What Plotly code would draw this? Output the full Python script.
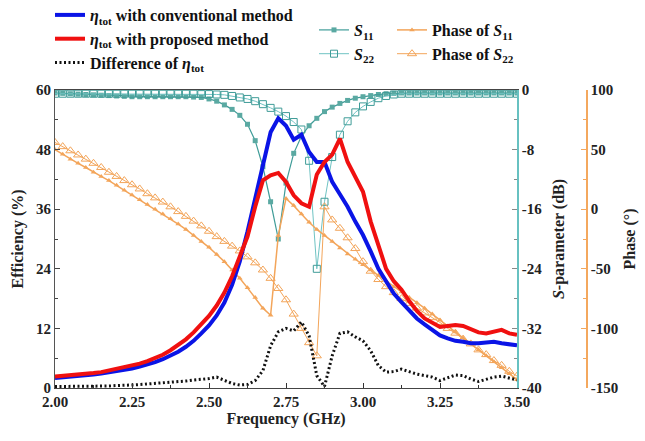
import plotly.graph_objects as go

# ---------------- data ----------------
freq = [round(2.0 + 0.025 * i, 3) for i in range(61)]

eff_conv = [2.0, 2.1, 2.2, 2.4, 2.5, 2.7, 2.9, 3.1, 3.3, 3.6,
            3.9, 4.3, 4.7, 5.2, 5.8, 6.5, 7.3, 8.3, 9.5, 11.0,
            12.6, 14.6, 17.2, 20.8, 25.5, 31.5, 38.0, 45.0, 51.5, 54.3,
            52.8, 50.0, 51.0, 47.5, 45.5, 45.5, 41.5, 39.0, 36.5, 33.5,
            30.8, 27.5, 24.0, 21.5, 19.0, 17.3, 15.5, 14.0, 12.8, 11.8,
            10.6, 10.0, 9.5, 9.3, 9.0, 9.0, 9.2, 9.3, 9.0, 8.8, 8.6]

eff_prop = [2.3, 2.4, 2.6, 2.7, 2.9, 3.0, 3.2, 3.5, 3.8, 4.1,
            4.5, 4.9, 5.4, 6.0, 6.7, 7.6, 8.6, 9.8, 11.2, 12.8,
            14.5, 16.6, 19.2, 22.5, 26.5, 30.5, 36.5, 41.8, 42.8, 43.3,
            41.5, 38.8, 37.2, 36.5, 43.0, 45.5, 47.0, 50.2, 45.5, 42.5,
            39.5, 33.5, 28.8, 24.0, 21.5, 19.8, 17.5, 15.5, 14.0, 13.2,
            12.3, 12.5, 12.7, 12.5, 11.8, 11.2, 11.0, 11.4, 11.7, 11.0, 10.7]

eff_diff = [0.3, 0.3, 0.3, 0.3, 0.3, 0.3, 0.4, 0.4, 0.5, 0.5,
            0.6, 0.7, 0.8, 0.9, 1.0, 1.1, 1.3, 1.4, 1.6, 1.7,
            1.9, 2.2, 1.5, 0.9, 0.6, 0.7, 1.5, 3.5, 8.5, 11.3,
            12.0, 11.5, 13.3, 10.5, 2.5, 0.3, 6.5, 11.0, 11.3, 10.3,
            9.5, 7.5, 4.5, 3.2, 3.3, 3.8, 3.3, 2.8, 2.5, 2.2,
            1.5, 2.0, 2.6, 2.5, 1.8, 1.3, 1.7, 2.2, 2.4, 2.0, 1.6]

s11_db = [-0.4, -0.45, -0.5, -0.55, -0.6, -0.65, -0.7, -0.75, -0.8, -0.85,
          -0.9, -0.9, -0.9, -0.9, -0.9, -0.9, -0.9, -0.9, -0.95, -1.0,
          -1.2, -1.5, -2.0, -2.6, -3.4, -4.6, -6.8, -10.3, -15.0, -20.0,
          -12.5, -8.5, -6.2, -4.8, -3.8, -2.9, -2.3, -1.8, -1.4, -1.1,
          -0.9, -0.75, -0.6, -0.5, -0.45, -0.4, -0.4, -0.4, -0.4, -0.4,
          -0.4, -0.4, -0.4, -0.4, -0.4, -0.4, -0.4, -0.4, -0.4, -0.4, -0.4]

s22_db = [-0.5, -0.5, -0.5, -0.5, -0.5, -0.5, -0.5, -0.5, -0.5, -0.5,
          -0.5, -0.5, -0.5, -0.5, -0.5, -0.5, -0.5, -0.5, -0.5, -0.55,
          -0.55, -0.6, -0.65, -0.8, -1.0, -1.2, -1.5, -1.9, -2.4, -2.9,
          -3.5, -4.3, -5.3, -9.5, -24.0, -15.0, -9.0, -6.0, -4.2, -3.0,
          -2.2, -1.6, -1.1, -0.8, -0.6, -0.5, -0.5, -0.5, -0.5, -0.5,
          -0.5, -0.5, -0.5, -0.5, -0.5, -0.5, -0.5, -0.5, -0.5, -0.5, -0.5]

phase_s11 = [50, 46, 42, 38.5, 35, 31, 27.5, 24, 20, 16,
             12, 8, 4, 0, -4, -8, -12.5, -17, -22, -27,
             -32, -38, -44, -51, -58, -66, -74, -83, -89, -22,
             9, 3, -4, -11, -17, -22, -27, -32.5, -37.5, -42,
             -46.5, -51, -55.5, -60, -65, -69.5, -74, -78.5, -83, -88,
             -93, -98, -103, -108, -113, -118, -123, -128, -133, -138, -143]

phase_s22 = [56, 52.5, 49, 45.5, 42, 38.5, 35, 31, 27.5, 24,
             20.5, 17, 13, 9.5, 6, 2, -2, -6, -10, -14,
             -18.5, -23, -27, -31, -35, -40, -45, -51, -58, -66.5,
             -76, -88, -100, -112, -123, 2, -9, -16, -24, -33,
             -44, -52, -59, -65, -70, -75, -79, -83, -87, -91,
             -95, -100, -104, -109, -113, -118, -122, -127, -131, -136, -140]

x_ticks = [2.0, 2.25, 2.5, 2.75, 3.0, 3.25, 3.5]
x_ticktext = ["2.00", "2.25", "2.50", "2.75", "3.00", "3.25", "3.50"]
eff_ticks = [0, 12, 24, 36, 48, 60]
s_ticks = [-40, -32, -24, -16, -8, 0]
s_ticktext = ["-40", "-32", "-24", "-16", "-8", "0"]
ph_ticks = [-150, -100, -50, 0, 50, 100]
ph_ticktext = ["-150", "-100", "-50", "0", "50", "100"]

# ---------------- style ----------------
FONT = "Liberation Serif"
TEAL_DARK = "#3f9c98"
TEAL_LIGHT = "#6fc3c3"
TEAL_AXIS = "#67c1c1"
ORANGE = "#f3a55a"
ORANGE_AXIS = "#f4a85e"

W, H = 645, 441
ML, MR, MT, MB = 55, 20, 90, 53
PW = W - ML - MR
PH = H - MT - MB
plot_right = 517
dom_end = (plot_right - ML) / PW
phase_pos = (587 - ML) / PW


def px_x(px):
    return (px - ML) / PW


def px_y(py):
    return 1 + (MT - py) / PH


fig = go.Figure()

# S-parameters on yaxis (right)
fig.add_trace(go.Scatter(
    x=freq, y=s11_db, mode="lines+markers", name="<i>S</i><sub>11</sub>",
    line=dict(color=TEAL_DARK, width=1.2),
    marker=dict(symbol="square", size=5, color="#5aa9a2", line=dict(width=0)),
    yaxis="y", legend="legend2"))
fig.add_trace(go.Scatter(
    x=freq, y=s22_db, mode="lines+markers", name="<i>S</i><sub>22</sub>",
    line=dict(color=TEAL_LIGHT, width=1.0),
    marker=dict(symbol="square-open", size=7, color=TEAL_DARK, line=dict(width=1)),
    yaxis="y", legend="legend2"))

# Phase on yaxis2
fig.add_trace(go.Scatter(
    x=freq, y=phase_s11, mode="lines+markers", name="Phase of <i>S</i><sub>11</sub>",
    line=dict(color=ORANGE, width=1.5),
    marker=dict(symbol="triangle-up", size=5, color=ORANGE),
    yaxis="y2", legend="legend3"))
fig.add_trace(go.Scatter(
    x=freq, y=phase_s22, mode="lines+markers", name="Phase of <i>S</i><sub>22</sub>",
    line=dict(color=ORANGE, width=1.0),
    marker=dict(symbol="triangle-up-open", size=8, color=ORANGE, line=dict(width=1)),
    yaxis="y2", legend="legend3"))

# Efficiency on yaxis3 (left)
fig.add_trace(go.Scatter(
    x=freq, y=eff_conv, mode="lines", name="<i>η</i><sub>tot</sub> with conventional method",
    line=dict(color="#0a14e6", width=4), yaxis="y3", legend="legend"))
fig.add_trace(go.Scatter(
    x=freq, y=eff_prop, mode="lines", name="<i>η</i><sub>tot</sub> with proposed method",
    line=dict(color="#f01010", width=4), yaxis="y3", legend="legend"))
fig.add_trace(go.Scatter(
    x=freq, y=eff_diff, mode="lines", name="Difference of <i>η</i><sub>tot</sub>",
    line=dict(color="#111111", width=3, dash="2px,2.5px"), yaxis="y3", legend="legend"))

tickfont = dict(family=FONT, size=15, color="#222", weight="bold")
titlefont = dict(family=FONT, size=16, color="#222", weight="bold")
legfont = dict(family=FONT, size=16, color="#111", weight="bold")

fig.update_layout(
    width=W, height=H,
    margin=dict(l=ML, r=MR, t=MT, b=MB, autoexpand=False),
    paper_bgcolor="white", plot_bgcolor="white",
    xaxis=dict(
        domain=[0, dom_end], range=[2.0, 3.5], automargin=False,
        tickmode="array", tickvals=x_ticks, ticktext=x_ticktext,
        ticks="inside", ticklen=5, tickcolor="#333",
        showline=True, linecolor="#444", linewidth=1.2, mirror=True,
        showgrid=False, zeroline=False, tickfont=tickfont,
        minor=dict(tickvals=[2.125, 2.375, 2.625, 2.875, 3.125, 3.375],
                   ticks="inside", ticklen=3, tickcolor="#333"),
        title=dict(text="Frequency (GHz)", font=titlefont, standoff=3),
    ),
    yaxis=dict(
        range=[-40, 0], side="right", anchor="x", automargin=False,
        tickmode="array", tickvals=s_ticks, ticktext=s_ticktext,
        ticks="inside", ticklen=5, tickcolor="#888",
        showline=True, linecolor=TEAL_AXIS, linewidth=1.5,
        showgrid=False, zeroline=False, tickfont=tickfont,
        minor=dict(tickvals=[-36, -28, -20, -12, -4], ticks="inside",
                   ticklen=3, tickcolor="#888"),
        title=dict(text="<i>S</i>-parameter (dB)", font=titlefont, standoff=12),
    ),
    yaxis2=dict(
        range=[-150, 100], overlaying="y", side="right", anchor="free",
        position=phase_pos, automargin=False,
        tickmode="array", tickvals=ph_ticks, ticktext=ph_ticktext,
        ticks="inside", ticklen=5, tickcolor=ORANGE_AXIS,
        showline=True, linecolor=ORANGE_AXIS, linewidth=1.5,
        showgrid=False, zeroline=False, tickfont=tickfont,
        minor=dict(tickvals=[-125, -75, -25, 25, 75], ticks="inside",
                   ticklen=3, tickcolor=ORANGE_AXIS),
        title=dict(text="Phase (°)", font=titlefont, standoff=6),
    ),
    yaxis3=dict(
        range=[0, 60], overlaying="y", side="left", anchor="x", automargin=False,
        tickmode="array", tickvals=eff_ticks,
        ticks="inside", ticklen=5, tickcolor="#444",
        showline=True, linecolor="#555", linewidth=1.2,
        showgrid=False, zeroline=False, tickfont=tickfont,
        minor=dict(tickvals=[6, 18, 30, 42, 54], ticks="inside",
                   ticklen=3, tickcolor="#444"),
        title=dict(text="Efficiency (%)", font=titlefont, standoff=8),
    ),
    legend=dict(x=px_x(50), y=px_y(-2), xanchor="left", yanchor="top",
                bgcolor="rgba(0,0,0,0)", font=legfont, tracegroupgap=0),
    legend2=dict(x=px_x(314), y=px_y(13), xanchor="left", yanchor="top",
                 bgcolor="rgba(0,0,0,0)", font=legfont, tracegroupgap=0),
    legend3=dict(x=px_x(392), y=px_y(13), xanchor="left", yanchor="top",
                 bgcolor="rgba(0,0,0,0)", font=legfont, tracegroupgap=0),
    showlegend=True,
)

fig.write_html(
    "out.html",
    config={"displayModeBar": False},
    post_script="document.body.style.margin='0px';document.body.style.padding='0px';",
)
